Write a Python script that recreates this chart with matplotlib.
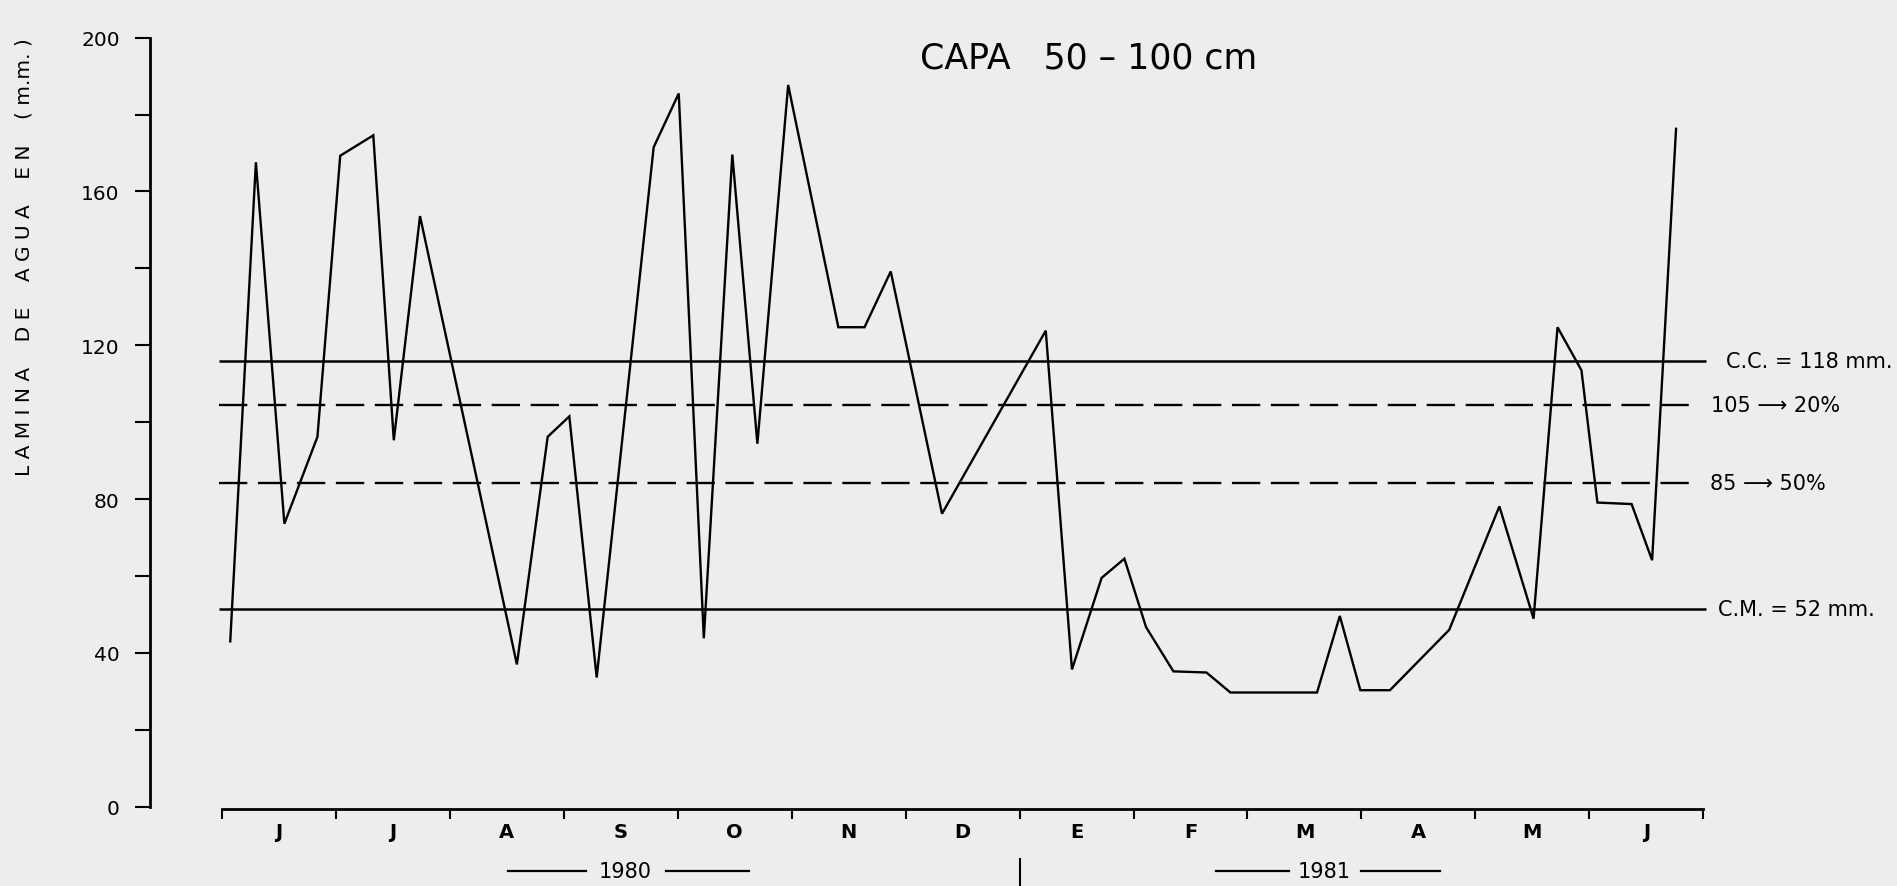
import matplotlib
matplotlib.use("Agg")
import matplotlib.pyplot as plt
from matplotlib.ticker import FixedLocator, NullFormatter

# ---- data (x in months since start of June 1980, y in mm) ----
months = ["J", "J", "A", "S", "O", "N", "D", "E", "F", "M", "A", "M", "J"]
x_vals = [0.075, 0.30, 0.55, 0.84, 1.04, 1.33, 1.51, 1.74, 2.59, 2.86,
          3.05, 3.29, 3.79, 4.01, 4.23, 4.48, 4.70, 4.97, 5.41, 5.64,
          5.87, 6.32, 7.23, 7.46, 7.72, 7.92, 8.11, 8.35, 8.64, 8.85,
          9.61, 9.81, 9.99, 10.25, 10.77, 11.21, 11.51, 11.72, 11.93, 12.07,
          12.37, 12.55, 12.76]
y_vals = [43.0, 167.6, 73.6, 96.2, 169.3, 174.6, 95.3, 153.6, 37.0, 96.2,
          101.5, 33.6, 171.5, 185.5, 43.8, 169.6, 94.4, 187.7, 124.7, 124.7,
          139.2, 76.2, 123.8, 35.7, 59.5, 64.5, 46.7, 35.2, 34.9, 29.7,
          29.7, 49.6, 30.3, 30.3, 46.0, 78.1, 48.9, 124.7, 113.5, 79.1,
          78.7, 64.1, 176.3]

cc_level = 115.8
p20_level = 104.5
p50_level = 84.3
cm_level = 51.3
level_labels = ["C.C. = 118 mm.", "105 \u27f6 20%", "85 \u27f6 50%", "C.M. = 52 mm."]
year_labels = ["1980", "1981"]
yticks_major = [0, 40, 80, 120, 160, 200]
yticks_minor = [20, 60, 100, 140, 180]

title = "CAPA   50 \u2013 100 cm"
ylabel = "L A M I N A    D E    A G U A    E N    ( m.m. )"

bg = "#ededed"
W, H = 1897, 887
fig = plt.figure(figsize=(W / 100, H / 100), dpi=100, facecolor=bg)
ax = fig.add_axes([216 / W, 0.0894, 1493.1 / W, 0.8670], facecolor=bg)

ax.set_xlim(-0.05, 13.05)
ax.set_ylim(0, 200)

# spines
for s in ["top", "right"]:
    ax.spines[s].set_visible(False)
ax.spines["left"].set_position(("outward", 47.5))
ax.spines["left"].set_bounds(0, 200)
ax.spines["left"].set_linewidth(2.0)
ax.spines["bottom"].set_position(("outward", 1.7))
ax.spines["bottom"].set_bounds(0, 13)
ax.spines["bottom"].set_linewidth(2.0)

# y ticks
ax.yaxis.set_major_locator(FixedLocator(yticks_major))
ax.yaxis.set_minor_locator(FixedLocator(yticks_minor))
ax.yaxis.set_minor_formatter(NullFormatter())
ax.set_yticklabels([str(v) for v in yticks_major], fontsize=14.5)
ax.tick_params(axis="y", which="both", direction="out", length=10.8, width=1.5, pad=11)

# x ticks: month boundaries (major), month labels (minor)
ax.xaxis.set_major_locator(FixedLocator(list(range(len(months) + 1))))
ax.xaxis.set_major_formatter(NullFormatter())
ax.xaxis.set_minor_locator(FixedLocator([i + 0.5 for i in range(len(months))]))
ax.set_xticklabels(months, minor=True, fontsize=14, fontweight="bold")
ax.tick_params(axis="x", which="major", direction="out", length=7.5, width=1.5)
ax.tick_params(axis="x", which="minor", length=0, pad=9)

# reference levels
x0, x1 = -0.02, 13.02
ax.plot([x0, x1], [cc_level, cc_level], color="black", lw=1.8, solid_capstyle="butt")
ax.plot([x0, 12.93], [p20_level, p20_level], color="black", lw=1.7, dashes=(12, 4.5))
ax.plot([x0, 12.90], [p50_level, p50_level], color="black", lw=1.7, dashes=(12, 4.5))
ax.plot([x0, x1], [cm_level, cm_level], color="black", lw=1.8, solid_capstyle="butt")

label_x = [13.20, 13.07, 13.06, 13.13]
for lx, lv, txt in zip(label_x, [cc_level, p20_level, p50_level, cm_level], level_labels):
    ax.text(lx, lv, txt, fontsize=15, va="center", ha="left", clip_on=False)

# data series
ax.plot(x_vals, y_vals, color="black", lw=1.7, solid_joinstyle="miter", clip_on=False)

# title
fig.text(0.574, 0.9335, title, fontsize=25, ha="center", va="center")

# y label
fig.text(0.0125, 0.71, ylabel, fontsize=14.5, rotation=90, ha="center", va="center")

# year labels below axis
tr = ax.get_xaxis_transform()
year_pos = [(2.51, 3.20, 3.54, 3.90, 4.63), (8.72, 9.36, 9.67, 10.00, 10.69)]
y_year = -0.083
for (a, b, c, d, e), yl in zip(year_pos, year_labels):
    ax.plot([a, b], [y_year, y_year], transform=tr, color="black", lw=1.6, clip_on=False)
    ax.plot([d, e], [y_year, y_year], transform=tr, color="black", lw=1.6, clip_on=False)
    ax.text(c, y_year, yl, transform=tr, fontsize=15, ha="center", va="center")

# separator mark between years
ax.plot([7.0, 7.0], [-0.068, -0.103], transform=tr, color="black", lw=1.5, clip_on=False)

fig.savefig("out.png", dpi=100, facecolor=bg)
